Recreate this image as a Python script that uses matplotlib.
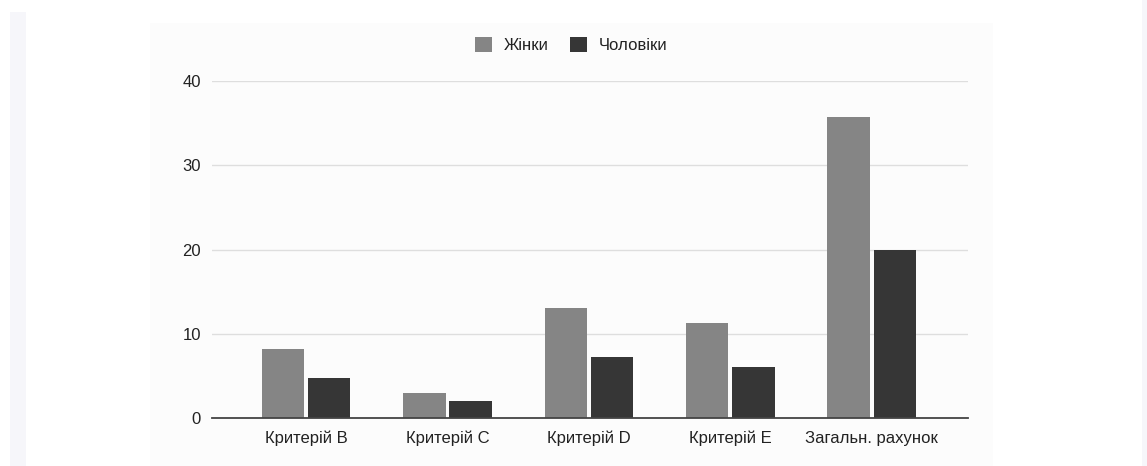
import matplotlib
matplotlib.use("Agg")
import matplotlib.pyplot as plt
from matplotlib.patches import Rectangle
import numpy as np

categories = ["Критерій B", "Критерій C", "Критерій D", "Критерій E", "Загальн. рахунок"]
women = [8.2, 3.0, 13.0, 11.3, 35.7]
men = [4.8, 2.0, 7.2, 6.1, 20.0]
series_names = ["Жінки", "Чоловіки"]
colors = ["#858585", "#363636"]
yticks = [0, 10, 20, 30, 40]

plt.rcParams['font.family'] = ['Liberation Sans', 'DejaVu Sans']

W, H = 1147, 466
fig = plt.figure(figsize=(W / 100, H / 100), dpi=100)
fig.patch.set_facecolor("white")

# background decorations
for rect in [
    Rectangle((10 / W, 0), 16 / W, 1 - 12 / H, facecolor="#f6f6fa"),
    Rectangle((1142 / W, 0), 5 / W, 1, facecolor="#f6f6fa"),
    Rectangle((150 / W, 0), (993 - 150) / W, 1 - 23 / H, facecolor="#fcfcfc"),
]:
    rect.set_transform(fig.transFigure)
    rect.set_edgecolor("none")
    rect.set_zorder(-10)
    fig.patches.append(rect)

left, right = 212 / W, 968 / W
bottom, top = 1 - 418 / H, 1 - 81 / H
ax = fig.add_axes([left, bottom, right - left, top - bottom])
ax.set_facecolor("none")
ax.set_zorder(1)

x = np.arange(len(categories))
bw = 0.30
gap = 0.014
ax.bar(x - bw / 2 - gap, women, width=bw, color=colors[0], zorder=3, label=series_names[0])
ax.bar(x + bw / 2 + gap, men, width=bw, color=colors[1], zorder=3, label=series_names[1])

ax.set_xlim(-0.665, 4.68)
ax.set_ylim(0, 40)
ax.set_yticks(yticks)
ax.set_yticklabels([str(v) for v in yticks])
ax.set_xticks(x)
ax.set_xticklabels(categories)
ax.yaxis.grid(True, color="#dedede", linewidth=1.0, zorder=0)
ax.set_axisbelow(True)
for s in ["top", "right", "left"]:
    ax.spines[s].set_visible(False)
ax.spines["bottom"].set_color("#444444")
ax.spines["bottom"].set_linewidth(1.3)
ax.spines["bottom"].set_zorder(4)
ax.tick_params(axis="both", length=0, labelsize=12, colors="#222222")
ax.tick_params(axis="y", pad=8)
ax.tick_params(axis="x", pad=9)

leg = fig.legend(loc="center", bbox_to_anchor=(571 / W, 1 - 45 / H), ncol=2, frameon=False,
                 fontsize=12, handlelength=1.0, handleheight=1.0, handletextpad=0.7,
                 columnspacing=1.3)
for t in leg.get_texts():
    t.set_color("#222222")

fig.savefig("out.png", dpi=100, facecolor=fig.get_facecolor())
